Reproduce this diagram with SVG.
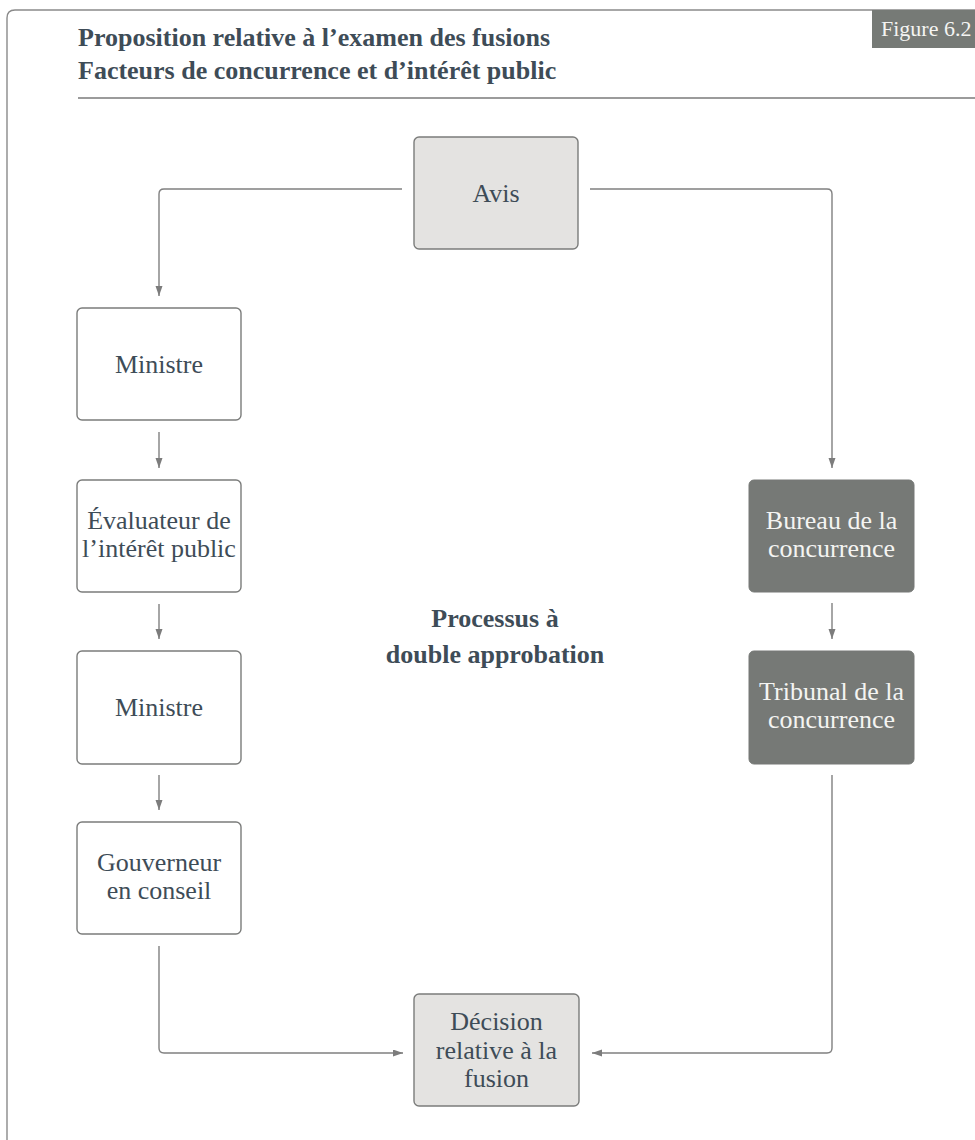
<svg xmlns="http://www.w3.org/2000/svg" width="975" height="1140" viewBox="0 0 975 1140">
<style>
.title{font-family:"Liberation Serif","Times New Roman",serif;font-weight:bold;font-size:26px;fill:#3e4c57}
.lbl{font-family:"Liberation Serif","Times New Roman",serif;font-size:26px;fill:#3e4c57;text-anchor:middle}
.lblw{font-family:"Liberation Serif","Times New Roman",serif;font-size:26px;fill:#f4f4f2;text-anchor:middle}
.center{font-family:"Liberation Serif","Times New Roman",serif;font-weight:bold;font-size:26px;fill:#3e4c57;text-anchor:middle}
.light{fill:#e4e3e1;stroke:#7b7c7b;stroke-width:1.4}
.white{fill:#ffffff;stroke:#7b7c7b;stroke-width:1.4}
.dark{fill:#767976;stroke:#767976;stroke-width:1}
.conn{fill:none;stroke:#808080;stroke-width:1.4}
</style>
<defs>
<marker id="arr" markerUnits="userSpaceOnUse" markerWidth="11" markerHeight="8" refX="10" refY="3.5" orient="auto">
<path d="M0,0 L10,3.5 L0,7 z" fill="#7c7c7c"/>
</marker>
</defs>
<rect width="975" height="1140" fill="#ffffff"/>
<g id="frame">
<path d="M7,1140 V18 Q7,10 15,10 H975" fill="none" stroke="#8a8a8a" stroke-width="1.4"/>
<rect x="872" y="10" width="103" height="38" fill="#767a76"/>
<text x="881" y="36" font-family="'Liberation Serif','Times New Roman',serif" font-size="22" fill="#f4f4f2">Figure 6.2</text>
<text class="title" x="78" y="46">Proposition relative à l’examen des fusions</text>
<text class="title" x="78" y="79">Facteurs de concurrence et d’intérêt public</text>
<line x1="78" y1="98" x2="975" y2="98" stroke="#7a7a7a" stroke-width="1.6"/>
</g>
<g id="connectors">
<path class="conn" d="M402,189 H164 Q159,189 159,194 V296" marker-end="url(#arr)"/>
<path class="conn" d="M590,189 H827 Q832,189 832,194 V468" marker-end="url(#arr)"/>
<path class="conn" d="M159,432 V468" marker-end="url(#arr)"/>
<path class="conn" d="M159,604 V639" marker-end="url(#arr)"/>
<path class="conn" d="M159,775 V810" marker-end="url(#arr)"/>
<path class="conn" d="M832,603 V639" marker-end="url(#arr)"/>
<path class="conn" d="M159,946 V1048 Q159,1053 164,1053 H403" marker-end="url(#arr)"/>
<path class="conn" d="M832,775 V1048 Q832,1053 827,1053 H592" marker-end="url(#arr)"/>
</g>
<g id="avis">
<rect class="light" x="414" y="137" width="164" height="112" rx="5"/>
<text class="lbl" x="496" y="202">Avis</text>
</g>
<g id="ministre1">
<rect class="white" x="77" y="308" width="164" height="112" rx="5"/>
<text class="lbl" x="159" y="373">Ministre</text>
</g>
<g id="evaluateur">
<rect class="white" x="77" y="480" width="164" height="112" rx="5"/>
<text class="lbl" x="159" y="529">Évaluateur de</text>
<text class="lbl" x="159" y="557">l’intérêt public</text>
</g>
<g id="ministre2">
<rect class="white" x="77" y="651" width="164" height="113" rx="5"/>
<text class="lbl" x="159" y="716">Ministre</text>
</g>
<g id="gouverneur">
<rect class="white" x="77" y="822" width="164" height="112" rx="5"/>
<text class="lbl" x="159" y="871">Gouverneur</text>
<text class="lbl" x="159" y="899">en conseil</text>
</g>
<g id="bureau">
<rect class="dark" x="749" y="480" width="165" height="112" rx="5"/>
<text class="lblw" x="831.5" y="529">Bureau de la</text>
<text class="lblw" x="831.5" y="557">concurrence</text>
</g>
<g id="tribunal">
<rect class="dark" x="749" y="651" width="165" height="113" rx="5"/>
<text class="lblw" x="831.5" y="700">Tribunal de la</text>
<text class="lblw" x="831.5" y="728">concurrence</text>
</g>
<g id="decision">
<rect class="light" x="414" y="994" width="165" height="112" rx="5"/>
<text class="lbl" x="496.5" y="1030">Décision</text>
<text class="lbl" x="496.5" y="1059">relative à la</text>
<text class="lbl" x="496.5" y="1087">fusion</text>
</g>
<g id="label-center">
<text class="center" x="495" y="627">Processus à</text>
<text class="center" x="495" y="663">double approbation</text>
</g>
</svg>
